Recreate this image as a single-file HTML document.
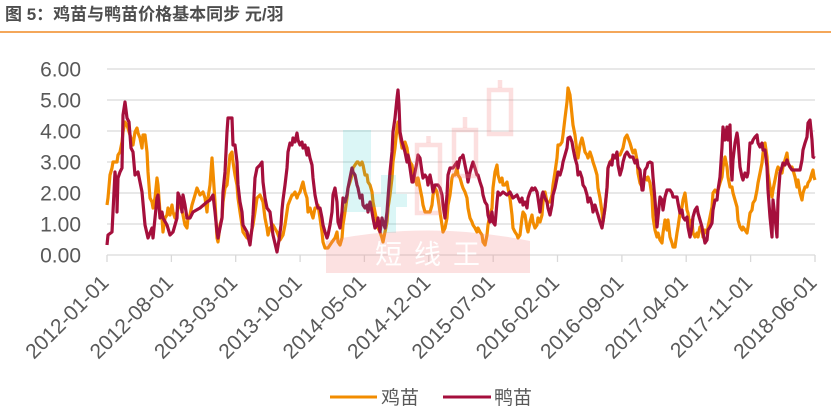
<!DOCTYPE html>
<html>
<head>
<meta charset="utf-8">
<style>
html,body{margin:0;padding:0;background:#fff;}
body{width:831px;height:410px;overflow:hidden;}
svg{display:block;}
text{font-family:"Liberation Sans","Noto Sans CJK SC",sans-serif;}
</style>
</head>
<body>
<svg width="831" height="410" viewBox="0 0 831 410" xmlns="http://www.w3.org/2000/svg">
<rect x="0" y="0" width="831" height="410" fill="#fff"/>
<!-- title -->
<text x="5" y="20" font-size="17" font-weight="bold" fill="#4d4d4d">图 5：鸡苗与鸭苗价格基本同步 元/羽</text>
<line x1="0" y1="32" x2="831" y2="32" stroke="#F08A24" stroke-width="1.5"/>

<!-- gridlines -->
<g stroke="#d9d9d9" stroke-width="1.3">
<line x1="107" y1="69" x2="815" y2="69"/>
<line x1="107" y1="100" x2="815" y2="100"/>
<line x1="107" y1="131" x2="815" y2="131"/>
<line x1="107" y1="162" x2="815" y2="162"/>
<line x1="107" y1="193" x2="815" y2="193"/>
<line x1="107" y1="224" x2="815" y2="224"/>
<line x1="107" y1="255" x2="815" y2="255"/>
<line x1="107" y1="255" x2="107" y2="262"/>
<line x1="171.4" y1="255" x2="171.4" y2="262"/>
<line x1="235.7" y1="255" x2="235.7" y2="262"/>
<line x1="300.1" y1="255" x2="300.1" y2="262"/>
<line x1="364.4" y1="255" x2="364.4" y2="262"/>
<line x1="428.8" y1="255" x2="428.8" y2="262"/>
<line x1="493.2" y1="255" x2="493.2" y2="262"/>
<line x1="557.5" y1="255" x2="557.5" y2="262"/>
<line x1="621.9" y1="255" x2="621.9" y2="262"/>
<line x1="686.2" y1="255" x2="686.2" y2="262"/>
<line x1="750.6" y1="255" x2="750.6" y2="262"/>
<line x1="815" y1="255" x2="815" y2="262"/>
</g>

<!-- y labels -->
<g font-size="21" fill="#595959" text-anchor="end">
<text x="81" y="76.5">6.00</text>
<text x="81" y="107.5">5.00</text>
<text x="81" y="138.5">4.00</text>
<text x="81" y="169.5">3.00</text>
<text x="81" y="200.5">2.00</text>
<text x="81" y="231.5">1.00</text>
<text x="81" y="262.5">0.00</text>
</g>

<!-- x labels -->
<g font-size="21" fill="#595959" text-anchor="end">
<text x="110" y="284" transform="rotate(-45 110 284)">2012-01-01</text>
<text x="174.4" y="284" transform="rotate(-45 174.4 284)">2012-08-01</text>
<text x="238.7" y="284" transform="rotate(-45 238.7 284)">2013-03-01</text>
<text x="303.1" y="284" transform="rotate(-45 303.1 284)">2013-10-01</text>
<text x="367.4" y="284" transform="rotate(-45 367.4 284)">2014-05-01</text>
<text x="431.8" y="284" transform="rotate(-45 431.8 284)">2014-12-01</text>
<text x="496.2" y="284" transform="rotate(-45 496.2 284)">2015-07-01</text>
<text x="560.5" y="284" transform="rotate(-45 560.5 284)">2016-02-01</text>
<text x="624.9" y="284" transform="rotate(-45 624.9 284)">2016-09-01</text>
<text x="689.2" y="284" transform="rotate(-45 689.2 284)">2017-04-01</text>
<text x="753.6" y="284" transform="rotate(-45 753.6 284)">2017-11-01</text>
<text x="818" y="284" transform="rotate(-45 818 284)">2018-06-01</text>
</g>

<!-- chicken series -->
<polyline fill="none" stroke="#F28C00" stroke-width="3.2" stroke-linejoin="round" points="107,205 108,198 110,175 112,168 113,162 117,162 118,155 120,152 122,142 123,132 125,122 127,125 130,135 133,145 135,132 137,128 138,133 140,138 142,148 143,135 145,135 147,152 148,172 150,198 152,202 153,208 155,198 157,178 158,185 160,212 162,218 163,232 165,218 167,215 168,208 170,215 172,205 173,212 175,218 177,212 180,202 183,215 185,225 187,228 188,218 190,215 192,205 195,195 197,188 200,195 203,192 205,198 207,212 208,198 210,185 212,158 213,172 215,202 217,238 218,242 220,225 222,218 223,202 225,188 227,185 228,175 230,155 232,152 233,162 235,175 237,185 238,198 240,212 242,225 243,232 247,238 250,238 253,225 255,212 257,198 260,195 263,202 265,218 267,228 268,235 270,228 273,225 277,232 280,240 283,235 285,225 288,205 292,195 293,195 295,192 297,198 298,195 300,192 302,185 303,182 305,192 307,198 308,212 310,208 312,215 313,218 315,208 317,208 318,205 320,218 322,232 323,242 325,248 328,248 332,242 335,238 337,232 338,242 340,245 342,238 343,225 345,212 347,198 348,188 350,182 352,175 353,168 355,165 357,162 358,162 360,165 362,162 363,165 365,175 367,175 368,182 370,185 372,192 373,202 375,212 377,222 378,228 380,232 382,238 383,242 385,232 387,222 388,208 390,195 392,178 393,162 395,148 397,128 398,122 400,135 402,148 403,145 405,142 407,148 408,155 410,162 412,165 413,172 415,178 417,185 418,178 420,188 422,198 423,205 425,212 428,212 430,212 432,205 433,195 435,188 437,192 438,198 440,212 442,225 443,232 445,228 447,218 448,205 450,195 452,178 453,175 455,175 457,168 458,175 460,178 462,185 463,188 465,192 467,198 468,208 470,218 472,222 473,225 475,228 477,232 478,228 480,232 482,235 483,242 485,245 487,235 488,225 490,215 492,208 493,188 495,172 497,165 498,175 500,182 502,178 503,185 505,185 507,182 508,188 510,198 512,215 513,228 515,232 517,235 518,238 520,235 522,218 523,212 525,215 527,228 528,232 530,222 532,215 533,222 535,228 537,225 538,218 540,222 542,215 543,202 545,192 547,202 550,202 552,195 553,185 555,172 557,158 558,145 560,145 562,142 563,135 565,118 567,102 568,88 570,95 572,115 573,125 575,135 577,152 578,158 580,145 582,138 583,142 585,152 587,155 588,158 590,152 592,158 593,162 595,168 597,175 598,188 600,198 602,212 603,222 605,208 607,188 608,168 610,162 613,158 617,155 620,155 623,148 625,138 627,135 630,143 632,150 633,153 635,150 637,160 638,173 640,183 642,187 643,183 645,177 647,180 648,177 650,183 652,197 653,217 655,230 657,237 658,233 660,240 662,243 663,233 665,220 667,230 668,220 670,237 672,243 673,247 675,247 677,233 678,227 680,213 682,207 683,200 685,193 687,210 688,213 690,227 692,220 693,233 695,237 697,233 698,237 700,227 702,230 703,237 705,230 707,233 708,227 710,217 712,207 713,193 715,190 717,193 718,190 720,183 722,177 723,167 725,157 727,167 728,177 730,187 732,187 733,193 735,200 737,207 738,220 740,227 742,230 743,227 745,230 747,233 748,227 750,213 752,210 753,203 755,200 757,190 758,183 760,173 762,163 763,153 765,143 767,157 768,173 770,187 772,197 773,190 775,180 777,170 778,167 780,170 782,173 783,167 785,160 787,153 788,163 790,167 792,167 793,170 795,177 797,187 798,180 800,193 802,200 803,193 805,187 807,187 808,183 810,180 812,173 813,170 814,177 815,180"/>

<!-- duck series -->
<polyline fill="none" stroke="#A50F3C" stroke-width="3.2" stroke-linejoin="round" points="107,245 108,235 112,232 113,212 115,172 117,192 117,212 118,178 120,172 122,168 123,115 125,102 127,118 129,122 131,148 133,152 135,175 138,172 142,192 145,225 148,238 152,228 153,238 155,218 157,198 158,195 160,218 162,212 163,218 167,225 170,235 173,232 177,218 178,193 180,198 182,212 183,195 185,205 187,218 190,218 193,212 200,208 207,202 210,200 213,195 215,212 217,232 218,238 220,228 222,218 223,192 225,172 227,132 228,118 232,118 233,145 235,145 237,162 238,185 240,202 242,212 243,225 247,232 250,245 252,228 253,215 255,178 257,168 260,165 262,162 263,182 265,198 267,208 270,212 272,228 273,235 277,252 279,240 281,225 282,210 283,200 285,185 287,168 288,152 290,143 292,145 293,138 295,142 297,133 298,140 300,145 302,142 303,148 305,145 307,155 308,148 310,158 312,165 313,178 315,195 317,205 318,208 320,208 322,218 323,225 325,232 327,238 328,235 330,225 332,212 333,195 335,188 337,202 338,222 340,228 342,212 343,198 345,202 347,195 348,188 350,178 352,168 353,172 355,175 357,185 358,188 360,198 362,195 363,205 365,208 367,205 368,212 370,202 372,212 373,218 375,228 377,225 378,218 380,232 382,218 383,222 385,228 387,212 388,198 390,172 392,152 393,132 395,118 397,98 398,90 399,105 400,132 402,142 403,145 405,152 407,162 408,155 410,168 412,182 413,182 415,172 417,162 418,155 420,158 422,172 423,178 425,175 427,178 428,185 430,175 432,185 433,192 435,185 437,185 438,185 440,188 442,195 443,205 445,218 447,195 448,175 450,168 453,168 455,165 457,162 458,168 460,158 462,157 463,155 465,165 467,175 468,182 470,172 472,165 473,162 475,168 477,175 478,175 480,182 482,188 483,195 485,202 487,205 488,215 490,222 492,212 493,222 495,225 497,202 498,192 500,195 503,192 507,195 510,192 513,198 517,195 520,202 522,198 523,205 525,202 527,208 528,198 530,192 532,188 533,190 535,188 537,192 538,198 540,212 542,195 543,192 545,198 547,202 548,208 550,215 552,205 553,195 555,188 557,178 558,172 560,175 562,168 563,162 565,155 567,148 568,138 570,137 572,142 573,148 575,158 577,165 578,175 580,172 582,178 583,185 585,188 587,195 588,202 590,198 592,205 593,212 595,205 597,212 598,215 600,222 602,228 603,222 605,208 607,188 608,168 610,162 612,165 613,155 615,158 617,152 618,165 620,175 622,168 623,162 625,155 627,152 630,157 633,157 635,163 637,160 638,167 640,170 642,190 643,190 645,170 647,167 648,163 650,162 652,163 653,177 655,200 657,227 658,217 660,197 662,200 663,210 665,197 667,190 670,190 672,193 673,197 677,197 678,203 680,213 682,210 683,217 685,220 687,217 688,227 690,237 692,227 693,217 695,210 697,207 698,213 700,220 702,227 703,233 705,243 707,240 708,230 710,227 712,223 713,210 715,200 717,200 718,190 720,177 722,147 723,127 725,140 727,127 728,140 730,125 731,167 732,180 733,160 735,143 737,133 738,140 740,167 742,177 743,180 745,173 747,177 748,173 750,143 752,143 753,140 755,137 757,135 758,143 760,147 762,143 763,150 765,150 767,167 768,190 770,217 772,237 773,200 775,217 777,237 778,200 780,173 782,167 783,163 785,165 787,160 788,163 790,167 792,170 797,170 800,170 802,160 803,150 805,143 807,137 808,123 810,120 811,130 812,140 813,157 815,158"/>

<!-- watermark -->
<g>
<rect x="343" y="130" width="28" height="82" fill="rgb(0,190,190)" fill-opacity="0.14"/>
<rect x="381" y="175" width="15" height="58" fill="rgb(0,190,190)" fill-opacity="0.14"/>
<rect x="371" y="194" width="10" height="13" fill="rgb(0,190,190)" fill-opacity="0.14"/>
<rect x="396" y="194" width="11" height="13" fill="rgb(0,190,190)" fill-opacity="0.14"/>
<g fill="none" stroke="rgb(245,140,140)" stroke-opacity="0.28" stroke-width="4.5">
<rect x="417" y="145" width="23" height="68"/>
<line x1="428.5" y1="136" x2="428.5" y2="143"/>
<rect x="454" y="130" width="22" height="46"/>
<line x1="465" y1="117" x2="465" y2="128"/>
<rect x="489" y="90" width="22" height="44"/>
<line x1="500" y1="80" x2="500" y2="88"/>
</g>
<path d="M326,273 L326,241 Q428,220 530,241 L530,273 Z" fill="rgb(245,140,140)" fill-opacity="0.26"/>
<text x="375" y="264" font-size="27" fill="#ffffff" fill-opacity="0.95" letter-spacing="12" font-family="'Noto Sans CJK SC',sans-serif">短线王</text>
</g>

<!-- legend -->
<line x1="330" y1="397" x2="377" y2="397" stroke="#F28C00" stroke-width="3"/>
<text x="381" y="404" font-size="19" fill="#595959">鸡苗</text>
<line x1="443" y1="397" x2="491" y2="397" stroke="#A50F3C" stroke-width="3"/>
<text x="494" y="404" font-size="19" fill="#595959">鸭苗</text>
</svg>
</body>
</html>
